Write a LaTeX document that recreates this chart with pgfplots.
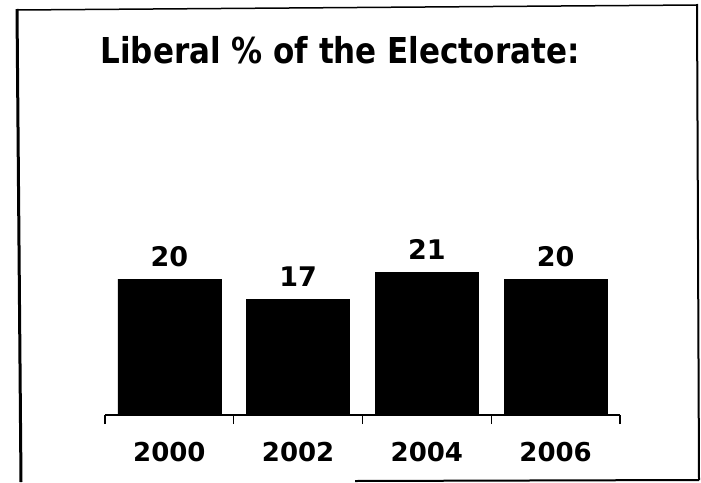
\documentclass[border=0pt]{standalone}
\usepackage{fontspec}
\setmainfont{DejaVu Sans}
\usepackage{pgfplots}
\pgfplotsset{compat=1.18}
\begin{document}
\begin{tikzpicture}[x=1pt,y=1pt]
\path[use as bounding box] (0,0) rectangle (701,-482);
\draw[line width=3pt] (17,-9) -- (21,-482);
\draw[line width=1.5pt] (17,-10) -- (697,-5);
\draw[line width=2pt] (697,-4) -- (699,-480);
\draw[line width=2pt] (355,-481) -- (699,-480);
\node[font=\bfseries\fontsize{31}{36}\selectfont, yscale=1.15] at (340,-50) {Liberal \% of the Electorate:};
\begin{axis}[at={(105pt,-415pt)}, anchor=south west, scale only axis,
  width=515pt, height=272pt, xmin=-0.5, xmax=3.5, ymin=0, ymax=40,
  /pgf/number format/assume math mode=true,
  axis x line=bottom, axis y line=none,
  axis line style={-, line width=1.2pt},
  xtick={-0.5,0.5,1.5,2.5,3.5}, xticklabels={},
  tick align=outside, major tick length=9pt,
  tick style={line width=1.2pt, black},
  extra x ticks={0,1,2,3}, extra x tick labels={2000,2002,2004,2006},
  extra x tick style={major tick length=0pt, tick label style={font=\bfseries\fontsize{26}{30}\selectfont, yshift=-24pt}},
  ybar, bar width=103pt,
  nodes near coords,
  nodes near coords style={font=\bfseries\fontsize{27}{32}\selectfont, yshift=9pt},
  clip=false]
\addplot[fill=black, draw=black] coordinates {(0,20) (1,17) (2,21) (3,20)};
\end{axis}
\end{tikzpicture}
\end{document}
